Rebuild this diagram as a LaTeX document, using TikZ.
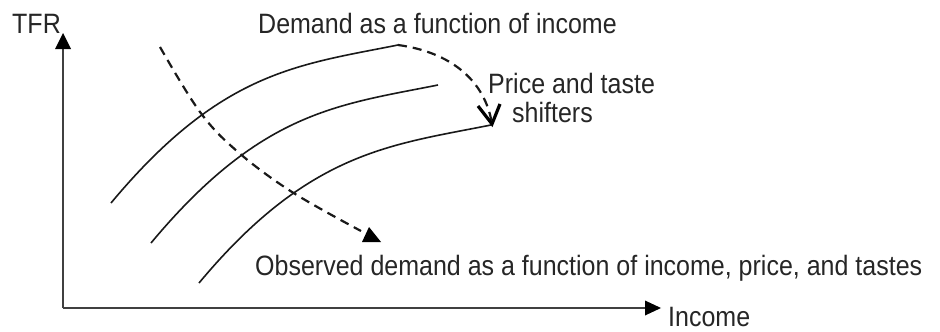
\documentclass[tikz,border=0pt]{standalone}
\usepackage{fontspec}
\usepackage{graphicx}
\setmainfont{Liberation Sans}
\newcommand{\lbl}[1]{\scalebox{1}[1.12]{#1}}
\begin{document}
\begin{tikzpicture}[x=1pt,y=-1pt,
  lab/.style={anchor=base west,inner sep=0pt,font=\fontsize{25}{29}\selectfont,text=black!85},
  axis/.style={line width=2pt,draw=black!75},
  curve/.style={line width=1.6pt,draw=black!90},
  dashcurve/.style={line width=2.2pt,draw=black!90,dash pattern=on 9pt off 6pt},
  headfill/.style={fill=black,draw=none}]
\useasboundingbox (0,0) rectangle (940,332);
% axes
\coordinate (O) at (63,308);
\coordinate (ytip) at (63,33);
\coordinate (xtip) at (661,308);
\draw[axis] (O) -- (63,47);
\draw[axis] (O) -- (646,308);
\fill[headfill] (ytip) -- (55,49) -- (71,49) -- cycle;
\fill[headfill] (xtip) -- (645,300.5) -- (645,315.5) -- cycle;
% demand curves (same shape, shifted)
\coordinate (c1s) at (111,203); \coordinate (c1e) at (398,45);
\coordinate (c2s) at (151,243); \coordinate (c2e) at (438,85);
\coordinate (c3s) at (199,283); \coordinate (c3e) at (491,125);
\draw[curve] (c1s) .. controls (221,71) and (298,65) .. (c1e);
\draw[curve] (c2s) .. controls (261,111) and (338,105) .. (c2e);
\draw[curve] (c3s) .. controls (309,151) and (391,145) .. (c3e);
% observed demand dashed arrow
\coordinate (d1s) at (160,47);
\coordinate (d1e) at (361,231);
\draw[dashcurve] plot[smooth,tension=0.6] coordinates {(d1s) (200,112) (238,152) (292,192) (d1e)};
\fill[headfill] (369,227) -- (362,242) -- (381,242) -- cycle;
% shifter dashed arrow
\coordinate (d2e) at (492,124);
\draw[dashcurve] (c1e) .. controls (450,52) and (485,80) .. (d2e);
\draw[line width=3.2pt,line join=miter] (478,106) -- (d2e) -- (500,104);
% labels
\node[lab] (tfr) at (12,33) {\lbl{TFR}};
\node[lab] (dem) at (258,33) {\lbl{Demand as a function of income}};
\node[lab] (pts) at (488,93) {\lbl{Price and taste}};
\node[lab] (shf) at (512,122) {\lbl{shifters}};
\node[lab] (obs) at (255,275) {\lbl{Observed demand as a function of income, price, and tastes}};
\node[lab] (inc) at (668,326) {\lbl{Income}};
\end{tikzpicture}
\end{document}
